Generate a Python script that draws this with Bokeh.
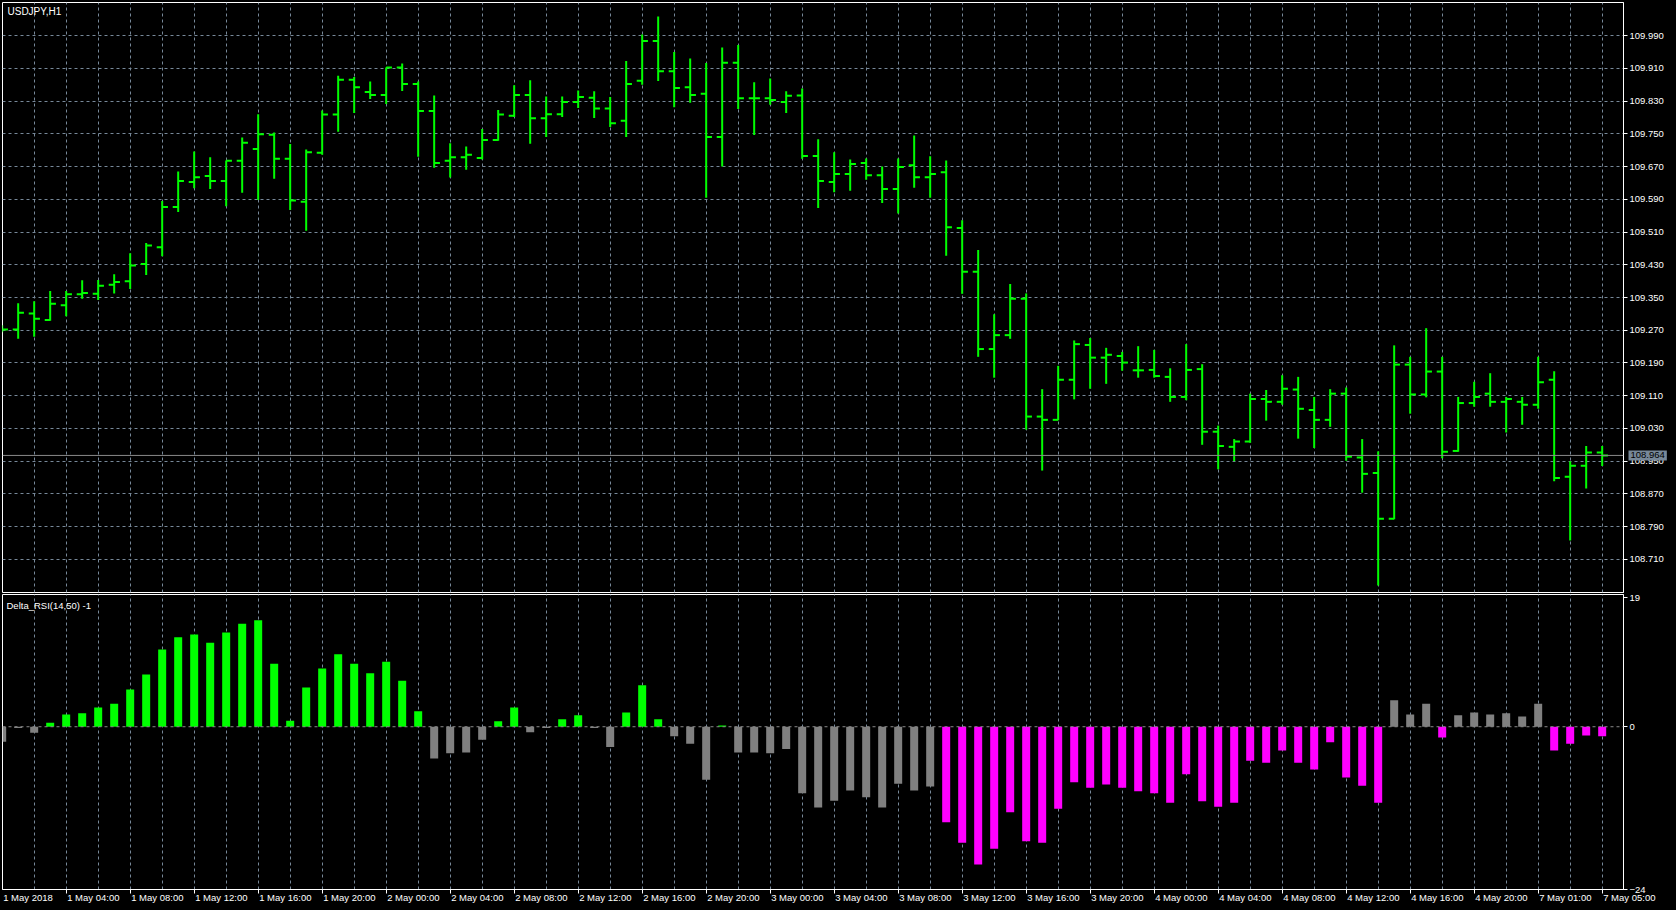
from bokeh.plotting import figure
from bokeh.models import (Range1d, FixedTicker, Span,
                          ColumnDataSource, PrintfTickFormatter)
from bokeh.layouts import column
from bokeh.embed import file_html
from bokeh.resources import INLINE
from bokeh.core.properties import value

# ---------------- data ----------------
symbol_title = "USDJPY,H1"
indicator_title = "Delta_RSI(14,50) -1"

time_labels = ["1 May 2018", "1 May 04:00", "1 May 08:00", "1 May 12:00", "1 May 16:00",
               "1 May 20:00", "2 May 00:00", "2 May 04:00", "2 May 08:00", "2 May 12:00",
               "2 May 16:00", "2 May 20:00", "3 May 00:00", "3 May 04:00", "3 May 08:00",
               "3 May 12:00", "3 May 16:00", "3 May 20:00", "4 May 00:00", "4 May 04:00",
               "4 May 08:00", "4 May 12:00", "4 May 16:00", "4 May 20:00", "7 May 01:00",
               "7 May 05:00"]

price_ticks = [108.710, 108.790, 108.870, 108.950, 109.030, 109.110, 109.190, 109.270,
               109.350, 109.430, 109.510, 109.590, 109.670, 109.750, 109.830, 109.910,
               109.990]
indicator_ticks = [-24, 0, 19]
last_price = 108.964

opens = [109.274, 109.272, 109.311, 109.295, 109.331, 109.358, 109.359, 109.381, 109.390, 109.432,
         109.473, 109.571, 109.632, 109.647, 109.635, 109.684, 109.713, 109.748, 109.689, 109.584,
         109.704, 109.797, 109.882, 109.852, 109.845, 109.912, 109.872, 109.806, 109.684, 109.693,
         109.691, 109.735, 109.794, 109.845, 109.788, 109.798, 109.828, 109.838, 109.812, 109.782,
         109.880, 109.977, 109.903, 109.864, 109.848, 109.742, 109.924, 109.837, 109.837, 109.828,
         109.844, 109.696, 109.632, 109.652, 109.679, 109.649, 109.615, 109.673, 109.644, 109.656,
         109.520, 109.413, 109.224, 109.258, 109.347, 109.059, 109.051, 109.149, 109.234, 109.203,
         109.207, 109.172, 109.173, 109.156, 109.107, 109.175, 109.022, 108.985, 108.998, 109.102,
         109.095, 109.125, 109.075, 109.051, 109.115, 108.959, 108.921, 108.809, 109.186, 109.113,
         109.169, 108.975, 109.092, 109.115, 109.095, 109.095, 109.088, 109.149, 108.912, 108.939,
         108.971]
highs = [109.282, 109.336, 109.341, 109.366, 109.366, 109.392, 109.393, 109.407, 109.458, 109.483,
         109.586, 109.658, 109.707, 109.693, 109.685, 109.741, 109.798, 109.753, 109.725, 109.712,
         109.807, 109.892, 109.889, 109.878, 109.912, 109.922, 109.878, 109.844, 109.727, 109.719,
         109.762, 109.808, 109.869, 109.881, 109.841, 109.841, 109.856, 109.854, 109.840, 109.928,
         109.993, 110.037, 109.950, 109.934, 109.923, 109.961, 109.967, 109.876, 109.885, 109.854,
         109.861, 109.737, 109.705, 109.687, 109.690, 109.670, 109.690, 109.746, 109.695, 109.685,
         109.539, 109.466, 109.309, 109.383, 109.360, 109.126, 109.183, 109.245, 109.251, 109.227,
         109.217, 109.231, 109.222, 109.177, 109.236, 109.187, 109.037, 109.004, 109.115, 109.124,
         109.160, 109.156, 109.107, 109.126, 109.130, 109.004, 108.974, 109.233, 109.205, 109.275,
         109.205, 109.107, 109.144, 109.165, 109.107, 109.107, 109.205, 109.170, 108.950, 108.987,
         108.987]
lows = [109.265, 109.249, 109.254, 109.293, 109.304, 109.347, 109.344, 109.360, 109.371, 109.405,
        109.451, 109.559, 109.617, 109.615, 109.573, 109.606, 109.588, 109.640, 109.564, 109.513,
        109.699, 109.755, 109.801, 109.835, 109.823, 109.855, 109.694, 109.667, 109.643, 109.662,
        109.687, 109.733, 109.791, 109.726, 109.742, 109.791, 109.813, 109.789, 109.767, 109.742,
        109.870, 109.879, 109.815, 109.826, 109.594, 109.670, 109.811, 109.747, 109.821, 109.801,
        109.689, 109.569, 109.607, 109.611, 109.638, 109.581, 109.555, 109.618, 109.594, 109.452,
        109.359, 109.205, 109.154, 109.249, 109.027, 108.927, 109.050, 109.101, 109.127, 109.139,
        109.171, 109.154, 109.154, 109.095, 109.099, 108.990, 108.930, 108.950, 108.995, 109.049,
        109.088, 109.005, 108.982, 109.034, 108.951, 108.873, 108.646, 108.808, 109.066, 109.106,
        108.957, 108.973, 109.083, 109.083, 109.020, 109.039, 109.078, 108.901, 108.756, 108.883,
        108.938]
closes = [109.272, 109.313, 109.298, 109.335, 109.358, 109.361, 109.379, 109.388, 109.428, 109.477,
          109.571, 109.635, 109.644, 109.635, 109.684, 109.728, 109.749, 109.689, 109.587, 109.705,
          109.797, 109.882, 109.864, 109.845, 109.912, 109.872, 109.806, 109.679, 109.693, 109.699,
          109.735, 109.797, 109.845, 109.788, 109.798, 109.828, 109.840, 109.812, 109.776, 109.872,
          109.977, 109.903, 109.862, 109.845, 109.742, 109.924, 109.837, 109.837, 109.833, 109.843,
          109.696, 109.635, 109.652, 109.676, 109.649, 109.615, 109.669, 109.644, 109.652, 109.522,
          109.413, 109.224, 109.258, 109.347, 109.059, 109.051, 109.149, 109.236, 109.203, 109.210,
          109.191, 109.172, 109.158, 109.107, 109.173, 109.022, 108.987, 108.998, 109.102, 109.095,
          109.127, 109.078, 109.051, 109.115, 108.961, 108.919, 108.809, 109.186, 109.113, 109.169,
          108.973, 109.092, 109.107, 109.095, 109.102, 109.088, 109.143, 108.909, 108.939, 108.971,
          108.964]

delta_rsi = [-2.2, -0.2, -0.9, 0.6, 1.8, 2.0, 2.85, 3.4, 5.5, 7.7,
             11.4, 13.2, 13.6, 12.4, 13.9, 15.2, 15.7, 9.3, 0.9, 5.8,
             8.6, 10.7, 9.3, 7.9, 9.6, 6.8, 2.3, -4.7, -3.9, -3.8,
             -1.9, 0.8, 2.85, -0.8, -0.2, 1.1, 1.7, -0.2, -3.0, 2.1,
             6.1, 1.1, -1.4, -2.5, -7.8, 0.2, -3.8, -3.8, -3.9, -3.3,
             -9.8, -11.9, -10.9, -9.4, -10.4, -11.9, -8.4, -9.4, -8.8, -14.1,
             -17.1, -20.3, -18.0, -12.6, -16.9, -17.1, -12.1, -8.2, -9.0, -8.5,
             -9.0, -9.5, -9.8, -11.2, -7.0, -11.0, -11.8, -11.2, -5.0, -5.3,
             -3.5, -5.3, -6.3, -2.3, -7.5, -8.7, -11.2, 3.9, 1.8, 3.4,
             -1.6, 1.7, 2.1, 1.8, 2.0, 1.5, 3.4, -3.5, -2.5, -1.3,
             -1.4]
# state of each histogram bar: up / flat / down
delta_state = (["flat"] * 3 + ["up"] * 24 + ["flat"] * 4 + ["up"] * 2 + ["flat"] * 2 +
               ["up"] * 2 + ["flat"] * 2 + ["up"] * 3 + ["flat"] * 3 + ["up"] +
               ["flat"] * 13 + ["down"] * 28 + ["flat"] * 3 + ["down"] + ["flat"] * 6 +
               ["down"] * 4)

# ---------------- style ----------------
BG = "#000000"
FG = "#ffffff"
BAR = "#00ff00"
GRID = "#778899"
STATE_COLORS = {"up": "#00ff00", "flat": "#808080", "down": "#ff00ff"}
FONT = "Liberation Sans"
FSIZE = "9.5px"
W = 1676
BAR_PX = 16.0
FRAME_W = W - 2 - 53
FRAME_H_A = 590

n = len(opens)
idx = list(range(n))
x_start = 0.02
xr = Range1d(x_start, x_start + FRAME_W / BAR_PX)
yr_price = Range1d(108.629, 110.071)
yr_ind = Range1d(-24, 19.5)

price_src = ColumnDataSource(dict(
    x=idx, xl=[i - 0.34 for i in idx], xr=[i + 0.36 for i in idx],
    o=opens, h=highs, l=lows, c=closes))
ind_src = ColumnDataSource(dict(
    x=idx, v=delta_rsi, color=[STATE_COLORS[s] for s in delta_state]))


def style_common(p):
    p.background_fill_color = BG
    p.border_fill_color = BG
    p.outline_line_color = FG
    p.outline_line_width = 1
    p.xgrid.ticker = FixedTicker(ticks=list(range(2, n, 2)))
    p.xgrid.grid_line_color = GRID
    p.xgrid.grid_line_dash = "3 3"
    p.xgrid.grid_line_width = 1
    ax = p.yaxis[0]
    ax.axis_line_color = FG
    ax.major_tick_line_color = FG
    ax.minor_tick_line_color = None
    ax.major_tick_out = 4
    ax.major_tick_in = 0
    ax.major_label_standoff = 2
    ax.major_label_text_color = FG
    ax.major_label_text_font = FONT
    ax.major_label_text_font_size = FSIZE


# ---------------- price panel ----------------
pa = figure(width=W, height=FRAME_H_A + 3, x_range=xr, y_range=yr_price,
            y_axis_location="right", output_backend="svg", toolbar_location=None,
            min_border_left=2, min_border_right=53, min_border_top=2, min_border_bottom=1)
pa.xaxis.visible = False
style_common(pa)
pa.yaxis[0].ticker = FixedTicker(ticks=price_ticks)
pa.yaxis[0].formatter = PrintfTickFormatter(format="%.3f")
pa.ygrid.ticker = FixedTicker(ticks=price_ticks)
pa.ygrid.grid_line_color = GRID
pa.ygrid.grid_line_dash = "3 3"

pa.add_layout(Span(location=last_price, dimension="width", line_color="#8a8a8a", line_width=1))
pa.segment(x0="x", y0="l", x1="x", y1="h", source=price_src, line_color=BAR, line_width=2)
pa.segment(x0="xl", y0="o", x1="x", y1="o", source=price_src, line_color=BAR, line_width=2)
pa.segment(x0="x", y0="c", x1="xr", y1="c", source=price_src, line_color=BAR, line_width=2)

pa.text(x=[xr.start], y=[yr_price.end], text=[symbol_title], x_offset=5, y_offset=3,
        text_baseline="top", text_align="left", text_color=FG,
        text_font=value(FONT), text_font_size="10px")

# last-price tag on the price scale (drawn on the overlay level, not clipped)
pa.text(x=[xr.end], y=[last_price], text=[f"{last_price:.3f}"], x_offset=5,
        text_baseline="middle", text_align="left", text_color="#000000",
        text_font=value(FONT), text_font_size=FSIZE,
        background_fill_color=GRID, padding=2, level="overlay")

# ---------------- indicator panel ----------------
pb = figure(width=W, height=317, x_range=xr, y_range=yr_ind,
            y_axis_location="right", output_backend="svg", toolbar_location=None,
            min_border_left=2, min_border_right=53, min_border_top=1, min_border_bottom=21)
style_common(pb)
pb.ygrid.grid_line_color = None
pb.yaxis[0].ticker = FixedTicker(ticks=indicator_ticks)

pb.add_layout(Span(location=0, dimension="width", line_color="#8a8a8a", line_width=1,
                   line_dash="3 3"))
pb.vbar(x="x", top="v", bottom=0, width=0.5, source=ind_src, fill_color="color",
        line_color=None)

pb.text(x=[xr.start], y=[yr_ind.end], text=[indicator_title], x_offset=4, y_offset=5,
        text_baseline="top", text_align="left", text_color=FG,
        text_font=value(FONT), text_font_size="9.5px")

tick_pos = list(range(0, n, 4))
xa = pb.xaxis[0]
xa.ticker = FixedTicker(ticks=tick_pos)
xa.axis_line_color = FG
xa.major_tick_line_color = FG
xa.minor_tick_line_color = None
xa.major_tick_out = 4
xa.major_tick_in = 0
xa.major_label_text_color = None
xa.major_label_standoff = 0

# time labels, left-aligned just right of each tick (MetaTrader style)
lab_src = ColumnDataSource(dict(x=tick_pos, y=[yr_ind.start] * len(tick_pos), t=time_labels))
pb.text(x="x", y="y", text="t", source=lab_src, x_offset=1, y_offset=2,
        text_align="left", text_baseline="top", text_color=FG,
        text_font=value(FONT), text_font_size=FSIZE, level="overlay")

layout = column(pa, pb, spacing=0)
layout.styles = {"background-color": BG}

html = file_html(layout, INLINE)
html = html.replace("<head>", "<head><style>html,body{margin:0;padding:0;background:#000;overflow:hidden;}</style>", 1)
open("out.html", "w").write(html)
